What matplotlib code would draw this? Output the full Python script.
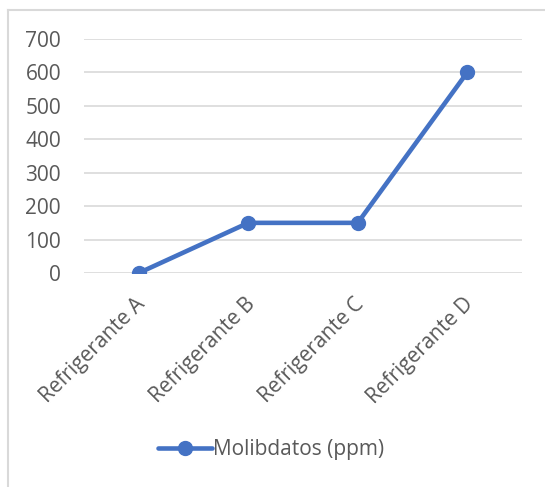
import matplotlib.pyplot as plt
from matplotlib.lines import Line2D
from matplotlib.transforms import ScaledTranslation

categorias = ['Refrigerante A', 'Refrigerante B', 'Refrigerante C', 'Refrigerante D']
molibdatos = [0, 150, 150, 600]
yticks = [0, 100, 200, 300, 400, 500, 600, 700]

W, H = 545, 487
fig = plt.figure(figsize=(W / 100, H / 100), dpi=100)
plt.rcParams['font.family'] = ['Open Sans', 'DejaVu Sans']

# marco del grafico: solo se ven el borde izquierdo y el superior
borde = dict(transform=fig.transFigure, color='#d9d9d9', linewidth=1.5)
fig.lines.append(Line2D([8 / W, 8 / W], [0, 1 - 10 / H], **borde))
fig.lines.append(Line2D([8 / W, 1], [1 - 10 / H, 1 - 10 / H], **borde))

ax = fig.add_axes([84 / W, 1 - 273 / H, 438 / W, (273 - 39) / H])
x = range(len(categorias))
ax.plot(x, molibdatos, color='#4472c4', linewidth=3.3, marker='o',
        markersize=10, solid_capstyle='round', label='Molibdatos (ppm)',
        zorder=3)

ax.set_xlim(-0.5, len(categorias) - 0.5)
ax.set_ylim(0, 700)
ax.set_yticks(yticks)
ax.set_xticks(list(x))
ax.set_xticklabels(categorias, rotation=45, ha='right', rotation_mode='anchor')
ax.grid(axis='y', color='#d9d9d9', linewidth=1.2)
ax.set_axisbelow(True)
for s in ax.spines.values():
    s.set_visible(False)
ax.tick_params(length=0, labelsize=15, labelcolor='#595959')
ax.tick_params(axis='y', pad=16.5)
ax.tick_params(axis='x', pad=15)

# correr un poco a la izquierda las etiquetas del eje x
desplaza = ScaledTranslation(-4 / 100, 0, fig.dpi_scale_trans)
for lab in ax.get_xticklabels():
    lab.set_transform(lab.get_transform() + desplaza)

fig.legend(loc='center', bbox_to_anchor=(271 / W, 1 - 450 / H), frameon=False,
           fontsize=15, labelcolor='#595959', handlelength=2.6,
           handletextpad=0.05)

fig.savefig('out.png', dpi=100, facecolor='white')
